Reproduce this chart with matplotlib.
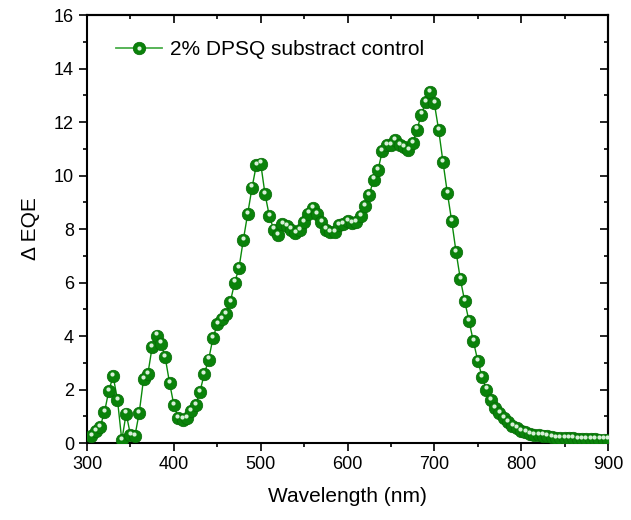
import numpy as np
import matplotlib
matplotlib.use("Agg")
import matplotlib.pyplot as plt
from matplotlib.ticker import MultipleLocator

wavelength = list(range(305, 905, 5))
delta_eqe = [
    0.25, 0.45, 0.6, 1.15, 1.95, 2.5, 1.62, 0.1, 1.1, 0.3,
    0.25, 1.12, 2.38, 2.58, 3.6, 4.02, 3.72, 3.2, 2.25, 1.42,
    0.92, 0.88, 0.92, 1.2, 1.42, 1.92, 2.58, 3.12, 3.92, 4.45,
    4.65, 4.82, 5.28, 6.0, 6.55, 7.6, 8.57, 9.55, 10.4, 10.45,
    9.3, 8.48, 7.98, 7.78, 8.18, 8.12, 7.98, 7.85, 7.95, 8.25,
    8.58, 8.8, 8.55, 8.25, 7.98, 7.9, 7.88, 8.15, 8.2, 8.3,
    8.22, 8.25, 8.5, 8.85, 9.27, 9.85, 10.2, 10.9, 11.15, 11.15,
    11.32, 11.15, 11.05, 10.95, 11.22, 11.72, 12.28, 12.75, 13.12, 12.7,
    11.7, 10.5, 9.35, 8.3, 7.15, 6.12, 5.3, 4.55, 3.8, 3.08,
    2.48, 2.0, 1.6, 1.3, 1.12, 0.92, 0.78, 0.65, 0.55, 0.45,
    0.4, 0.35, 0.3, 0.3, 0.28, 0.25, 0.22, 0.2, 0.2, 0.18,
    0.17, 0.17, 0.16, 0.15, 0.15, 0.14, 0.14, 0.13, 0.13, 0.13,
]
series_label = "2% DPSQ substract control"
x_ticks = [300, 400, 500, 600, 700, 800, 900]
y_ticks = [0, 2, 4, 6, 8, 10, 12, 14, 16]

plt.rcParams['font.family'] = ['Liberation Sans', 'DejaVu Sans']

fig = plt.figure(figsize=(6.31, 5.20), dpi=100)
ax = fig.add_axes([0.138, 0.148, 0.8255, 0.823])

line, = ax.plot(wavelength, delta_eqe, color='#0a8a0a', lw=1.0,
                marker='o', ms=9, mfc='#0a820a', mec='#066a06', mew=0.5, zorder=3)
hl, = ax.plot(np.array(wavelength) - 0.9, np.array(delta_eqe) + 0.08,
              ls='none', marker='o', ms=3, mfc='#d8f0d8', mec='none', zorder=4)

ax.set_xlim(300, 900)
ax.set_ylim(0, 16)
ax.set_xticks(x_ticks)
ax.set_yticks(y_ticks)
ax.xaxis.set_minor_locator(MultipleLocator(50))
ax.yaxis.set_minor_locator(MultipleLocator(1))
ax.tick_params(which='both', direction='out', labelsize=13, width=1.2)
ax.tick_params(which='major', length=6)
ax.tick_params(which='minor', length=3)
for s in ax.spines.values():
    s.set_linewidth(1.5)

# mirrored axes with inward ticks (top/right)
top = ax.secondary_xaxis('top')
top.set_xticks(x_ticks)
top.xaxis.set_minor_locator(MultipleLocator(50))
top.tick_params(which='both', direction='in', labeltop=False, width=1.2)
top.tick_params(which='major', length=6)
top.tick_params(which='minor', length=3)
top.spines['top'].set_linewidth(1.5)
right = ax.secondary_yaxis('right')
right.set_yticks(y_ticks)
right.yaxis.set_minor_locator(MultipleLocator(1))
right.tick_params(which='both', direction='in', labelright=False, width=1.2)
right.tick_params(which='major', length=6)
right.tick_params(which='minor', length=3)
right.spines['right'].set_linewidth(1.5)

ax.set_xlabel("Wavelength (nm)", fontsize=15, labelpad=10)
ax.set_ylabel("\u0394 EQE", fontsize=15, labelpad=10)

leg_line, = ax.plot([], [], color='#4aae4a', lw=1.3, marker='o', ms=9,
                    mfc='#0a820a', mec='#066a06', mew=0.5)
ax.legend([(leg_line, hl)], [series_label], loc='upper left', frameon=False,
          fontsize=15, bbox_to_anchor=(0.02, 0.985), handlelength=2.2,
          handletextpad=0.4)

fig.savefig("out.png", dpi=100)
